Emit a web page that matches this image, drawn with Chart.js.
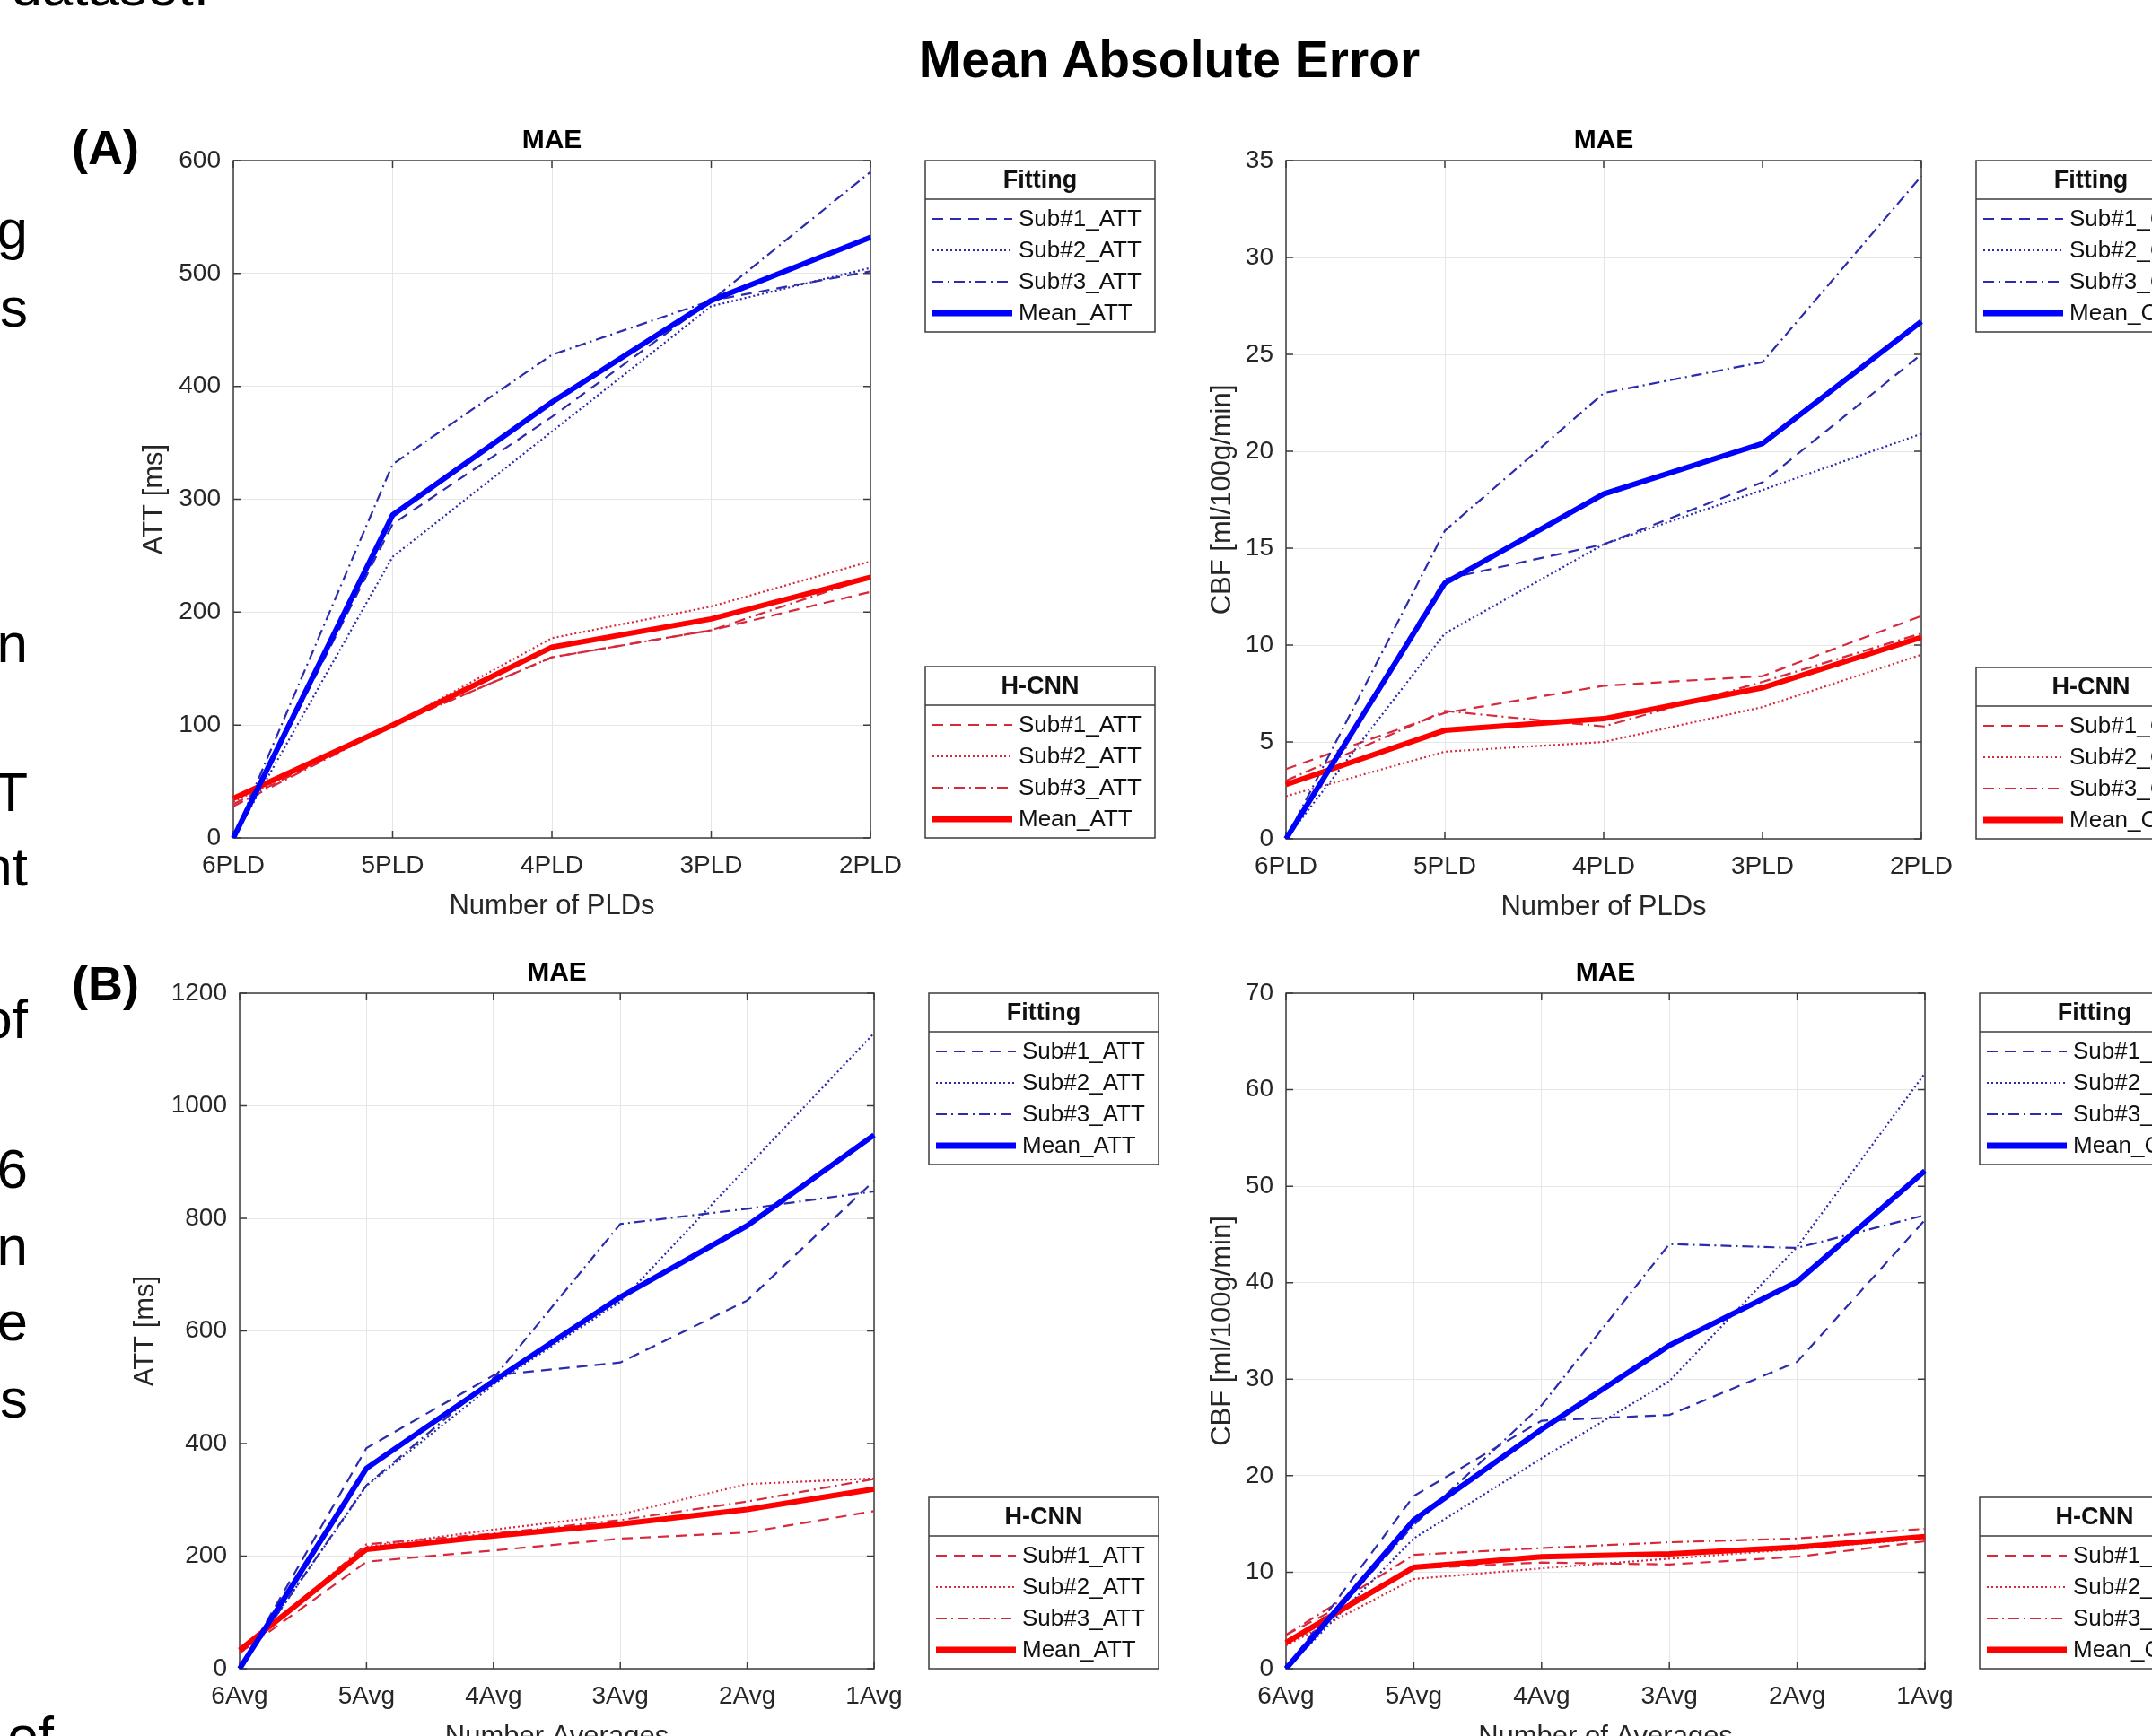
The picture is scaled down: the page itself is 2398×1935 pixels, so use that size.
<!DOCTYPE html>
<html>
<head>
<meta charset="utf-8">
<script src="https://cdn.jsdelivr.net/npm/chart.js@4.4.1/dist/chart.umd.min.js"></script>
<style>
html, body { margin: 0; padding: 0; background: #fff; }
body { width: 2398px; height: 1935px; overflow: hidden; position: relative; font-family: "Liberation Sans", Arial, sans-serif; }
canvas { position: absolute; }
.frag { position: absolute; font-size: 62px; line-height: 62px; color: #000; white-space: nowrap; text-align: right; }
.bigTitle { position: absolute; left: 903px; width: 800px; top: 38px; text-align: center; font-weight: bold; font-size: 57px; line-height: 57px; color: #000; }
.panelTag { position: absolute; left: 80px; font-weight: bold; font-size: 54px; line-height: 54px; color: #000; }
</style>
</head>
<body>
<div class="frag" style="right:2165px; top:-46px;">dataset.</div>
<div class="frag" style="right:2367px; top:225px;">g</div>
<div class="frag" style="right:2367px; top:312px;">s</div>
<div class="frag" style="right:2367px; top:686px;">n</div>
<div class="frag" style="right:2367px; top:852px;">T</div>
<div class="frag" style="right:2367px; top:935px;">nt</div>
<div class="frag" style="right:2367px; top:1105px;">of</div>
<div class="frag" style="right:2367px; top:1272px;">6</div>
<div class="frag" style="right:2367px; top:1358px;">n</div>
<div class="frag" style="right:2367px; top:1442px;">e</div>
<div class="frag" style="right:2367px; top:1528px;">s</div>
<div class="frag" style="right:2338px; top:1904px;">of</div>

<div class="bigTitle">Mean Absolute Error</div>
<div class="panelTag" style="top:137px;">(A)</div>
<div class="panelTag" style="top:1069px;">(B)</div>

<canvas id="attPld"></canvas>
<canvas id="cbfPld"></canvas>
<canvas id="attAvg"></canvas>
<canvas id="cbfAvg"></canvas>

<script>
// categorias
const pldLabels = ['6PLD', '5PLD', '4PLD', '3PLD', '2PLD'];
const avgLabels = ['6Avg', '5Avg', '4Avg', '3Avg', '2Avg', '1Avg'];

// (A) ATT x PLDs
const attPldFitSub1 = [0, 278, 373, 476, 502];
const attPldFitSub2 = [0, 249, 360, 471, 505];
const attPldFitSub3 = [0, 331, 428, 476, 590];
const attPldFitMean = [0, 286, 386, 476, 532];
const attPldCnnSub1 = [30, 100, 160, 184, 218];
const attPldCnnSub2 = [32, 100, 177, 205, 245];
const attPldCnnSub3 = [28, 100, 160, 184, 231];
const attPldCnnMean = [35, 100, 169, 194, 231];

// (A) CBF x PLDs
const cbfPldFitSub1 = [0, 13.4, 15.2, 18.4, 25.0];
const cbfPldFitSub2 = [0, 10.6, 15.2, 18.0, 20.9];
const cbfPldFitSub3 = [0, 15.9, 23.0, 24.6, 34.2];
const cbfPldFitMean = [0, 13.2, 17.8, 20.4, 26.7];
const cbfPldCnnSub1 = [3.6, 6.5, 7.9, 8.4, 11.5];
const cbfPldCnnSub2 = [2.2, 4.5, 5.0, 6.8, 9.5];
const cbfPldCnnSub3 = [3.0, 6.6, 5.8, 8.1, 10.6];
const cbfPldCnnMean = [2.8, 5.6, 6.2, 7.8, 10.4];

// (B) ATT x averages
const attAvgFitSub1 = [0, 392, 521, 544, 654, 867];
const attAvgFitSub2 = [0, 325, 505, 652, 891, 1129];
const attAvgFitSub3 = [0, 326, 516, 790, 817, 848];
const attAvgFitMean = [0, 356, 511, 660, 787, 948];
const attAvgCnnSub1 = [28, 190, 210, 231, 242, 280];
const attAvgCnnSub2 = [27, 217, 247, 274, 328, 338];
const attAvgCnnSub3 = [27, 221, 240, 264, 297, 337];
const attAvgCnnMean = [33, 212, 236, 257, 283, 319];

// (B) CBF x averages
const cbfAvgFitSub1 = [0, 17.9, 25.7, 26.3, 31.8, 46.5];
const cbfAvgFitSub2 = [0, 13.5, 21.8, 29.8, 43.7, 61.7];
const cbfAvgFitSub3 = [0, 14.9, 27.3, 44.0, 43.6, 47.0];
const cbfAvgFitMean = [0, 15.4, 24.8, 33.5, 40.1, 51.6];
const cbfAvgCnnSub1 = [3.5, 10.4, 11.0, 10.8, 11.6, 13.2];
const cbfAvgCnnSub2 = [2.4, 9.3, 10.4, 11.4, 12.4, 13.5];
const cbfAvgCnnSub3 = [3.5, 11.8, 12.5, 13.1, 13.5, 14.5];
const cbfAvgCnnMean = [2.7, 10.5, 11.6, 11.9, 12.6, 13.7];

const FONT = '"Liberation Sans", Arial, sans-serif';
const FIT_SUB = '#2b2bb0';
const FIT_MEAN = '#0000ff';
const CNN_SUB = '#d8283c';
const CNN_MEAN = '#ff0000';
const DASH = [12, 8];
const DOT = [2, 3];
const DASHDOT = [12, 5, 2, 5];

const LEG_GAP = 61, LEG_W = 256, LEG_H = 191;

function line(label, data, color, width, dash, group, idx) {
    return {
        label: label, data: data, borderColor: color, backgroundColor: color,
        borderWidth: width, borderDash: dash, pointRadius: 0, tension: 0,
        fill: false, group: group, legendIdx: idx
    };
}

function buildDatasets(unit, fit, cnn) {
    // média primeiro = desenhada por cima
    return [
        line('Mean_' + unit, fit[3], FIT_MEAN, 6, [], 'fit', 3),
        line('Mean_' + unit, cnn[3], CNN_MEAN, 6, [], 'cnn', 3),
        line('Sub#1_' + unit, fit[0], FIT_SUB, 2.2, DASH, 'fit', 0),
        line('Sub#2_' + unit, fit[1], FIT_SUB, 2.2, DOT, 'fit', 1),
        line('Sub#3_' + unit, fit[2], FIT_SUB, 2.2, DASHDOT, 'fit', 2),
        line('Sub#1_' + unit, cnn[0], CNN_SUB, 2.2, DASH, 'cnn', 0),
        line('Sub#2_' + unit, cnn[1], CNN_SUB, 2.2, DOT, 'cnn', 1),
        line('Sub#3_' + unit, cnn[2], CNN_SUB, 2.2, DASHDOT, 'cnn', 2)
    ];
}

function drawLegend(ctx, chart, x, y, title, group) {
    const items = chart.data.datasets.filter(d => d.group === group)
        .sort((a, b) => a.legendIdx - b.legendIdx);
    ctx.save();
    ctx.fillStyle = '#fff';
    ctx.fillRect(x, y, LEG_W, LEG_H);
    ctx.strokeStyle = '#3c3c3c';
    ctx.lineWidth = 1.5;
    ctx.setLineDash([]);
    ctx.strokeRect(x, y, LEG_W, LEG_H);
    ctx.beginPath();
    ctx.moveTo(x, y + 43);
    ctx.lineTo(x + LEG_W, y + 43);
    ctx.stroke();
    ctx.fillStyle = '#111';
    ctx.font = 'bold 27px ' + FONT;
    ctx.textAlign = 'center';
    ctx.textBaseline = 'middle';
    ctx.fillText(title, x + LEG_W / 2, y + 23);
    ctx.font = '26px ' + FONT;
    ctx.textAlign = 'left';
    items.forEach((d, i) => {
        const yy = y + 65 + i * 35;
        ctx.strokeStyle = d.borderColor;
        ctx.lineWidth = d.borderWidth === 6 ? 7 : d.borderWidth;
        ctx.setLineDash(d.borderDash || []);
        ctx.beginPath();
        ctx.moveTo(x + 8, yy);
        ctx.lineTo(x + 97, yy);
        ctx.stroke();
        ctx.setLineDash([]);
        ctx.fillStyle = '#111';
        ctx.fillText(d.label, x + 104, yy + 1);
    });
    ctx.restore();
}

const matlabAxes = {
    id: 'matlabAxes',
    beforeDatasetsDraw(chart) {
        const { ctx, chartArea: a, scales } = chart;
        ctx.save();
        ctx.strokeStyle = '#3c3c3c';
        ctx.lineWidth = 1.5;
        ctx.strokeRect(a.left, a.top, a.right - a.left, a.bottom - a.top);
        ctx.beginPath();
        scales.x.ticks.forEach((t, i) => {
            const x = scales.x.getPixelForTick(i);
            ctx.moveTo(x, a.bottom); ctx.lineTo(x, a.bottom - 8);
            ctx.moveTo(x, a.top); ctx.lineTo(x, a.top + 8);
        });
        scales.y.ticks.forEach((t, i) => {
            const y = scales.y.getPixelForTick(i);
            ctx.moveTo(a.left, y); ctx.lineTo(a.left + 8, y);
            ctx.moveTo(a.right, y); ctx.lineTo(a.right - 8, y);
        });
        ctx.stroke();
        ctx.restore();
    },
    afterDraw(chart, args, opts) {
        const { ctx, chartArea: a } = chart;
        const cx = (a.left + a.right) / 2;
        ctx.save();
        ctx.textAlign = 'center';
        ctx.textBaseline = 'middle';
        ctx.fillStyle = '#000';
        ctx.font = 'bold 30px ' + FONT;
        ctx.fillText(opts.title, cx, a.top - 22);
        ctx.fillStyle = '#262626';
        ctx.font = '31px ' + FONT;
        ctx.fillText(opts.xTitle, cx, a.bottom + 76);
        ctx.translate(a.left - opts.yGap, (a.top + a.bottom) / 2);
        ctx.rotate(-Math.PI / 2);
        ctx.fillText(opts.yTitle, 0, 0);
        ctx.restore();
        drawLegend(ctx, chart, a.right + LEG_GAP, a.top, 'Fitting', 'fit');
        drawLegend(ctx, chart, a.right + LEG_GAP, a.bottom - LEG_H, 'H-CNN', 'cnn');
    }
};

const panels = [
    { id: 'attPld', plot: [260, 179, 970, 934], yGap: 88, labels: pldLabels, unit: 'ATT',
      yMax: 600, yStep: 100, yTitle: 'ATT [ms]', xTitle: 'Number of PLDs',
      fit: [attPldFitSub1, attPldFitSub2, attPldFitSub3, attPldFitMean],
      cnn: [attPldCnnSub1, attPldCnnSub2, attPldCnnSub3, attPldCnnMean] },
    { id: 'cbfPld', plot: [1433, 179, 2141, 935], yGap: 71, labels: pldLabels, unit: 'CBF',
      yMax: 35, yStep: 5, yTitle: 'CBF [ml/100g/min]', xTitle: 'Number of PLDs',
      fit: [cbfPldFitSub1, cbfPldFitSub2, cbfPldFitSub3, cbfPldFitMean],
      cnn: [cbfPldCnnSub1, cbfPldCnnSub2, cbfPldCnnSub3, cbfPldCnnMean] },
    { id: 'attAvg', plot: [267, 1107, 974, 1860], yGap: 105, labels: avgLabels, unit: 'ATT',
      yMax: 1200, yStep: 200, yTitle: 'ATT [ms]', xTitle: 'Number Averages',
      fit: [attAvgFitSub1, attAvgFitSub2, attAvgFitSub3, attAvgFitMean],
      cnn: [attAvgCnnSub1, attAvgCnnSub2, attAvgCnnSub3, attAvgCnnMean] },
    { id: 'cbfAvg', plot: [1433, 1107, 2145, 1860], yGap: 71, labels: avgLabels, unit: 'CBF',
      yMax: 70, yStep: 10, yTitle: 'CBF [ml/100g/min]', xTitle: 'Number of Averages',
      fit: [cbfAvgFitSub1, cbfAvgFitSub2, cbfAvgFitSub3, cbfAvgFitMean],
      cnn: [cbfAvgCnnSub1, cbfAvgCnnSub2, cbfAvgCnnSub3, cbfAvgCnnMean] }
];

const LEFT_SPACE = 220, TOP_SPACE = 90, BOTTOM_SPACE = 110;
const RIGHT_SPACE = LEG_GAP + LEG_W + 30;

panels.forEach(p => {
    const [l, t, r, b] = p.plot;
    const el = document.getElementById(p.id);
    const w = (r + RIGHT_SPACE) - (l - LEFT_SPACE);
    const h = (b + BOTTOM_SPACE) - (t - TOP_SPACE);
    el.width = w; el.height = h;
    el.style.left = (l - LEFT_SPACE) + 'px';
    el.style.top = (t - TOP_SPACE) + 'px';
    el.style.width = w + 'px';
    el.style.height = h + 'px';

    const tickFont = { family: FONT, size: 28 };
    new Chart(el.getContext('2d'), {
        type: 'line',
        data: { labels: p.labels, datasets: buildDatasets(p.unit, p.fit, p.cnn) },
        options: {
            responsive: false, animation: false, devicePixelRatio: 1,
            layout: { padding: { left: 0, top: TOP_SPACE, right: RIGHT_SPACE, bottom: 0 } },
            plugins: {
                legend: { display: false }, tooltip: { enabled: false }, title: { display: false },
                matlabAxes: { title: 'MAE', xTitle: p.xTitle, yTitle: p.yTitle, yGap: p.yGap }
            },
            scales: {
                x: {
                    type: 'category', offset: false,
                    grid: { color: '#e6e6e6', lineWidth: 1, drawTicks: false },
                    border: { display: false },
                    ticks: { font: tickFont, color: '#262626', padding: 14, maxRotation: 0, autoSkip: false },
                    afterFit(s) { s.height = BOTTOM_SPACE; }
                },
                y: {
                    min: 0, max: p.yMax,
                    grid: { color: '#e6e6e6', lineWidth: 1, drawTicks: false },
                    border: { display: false },
                    ticks: {
                        stepSize: p.yStep, font: tickFont, color: '#262626', padding: 14,
                        callback: v => String(v)
                    },
                    afterFit(s) { s.width = LEFT_SPACE; }
                }
            }
        },
        plugins: [matlabAxes]
    });
});
</script>
</body>
</html>
